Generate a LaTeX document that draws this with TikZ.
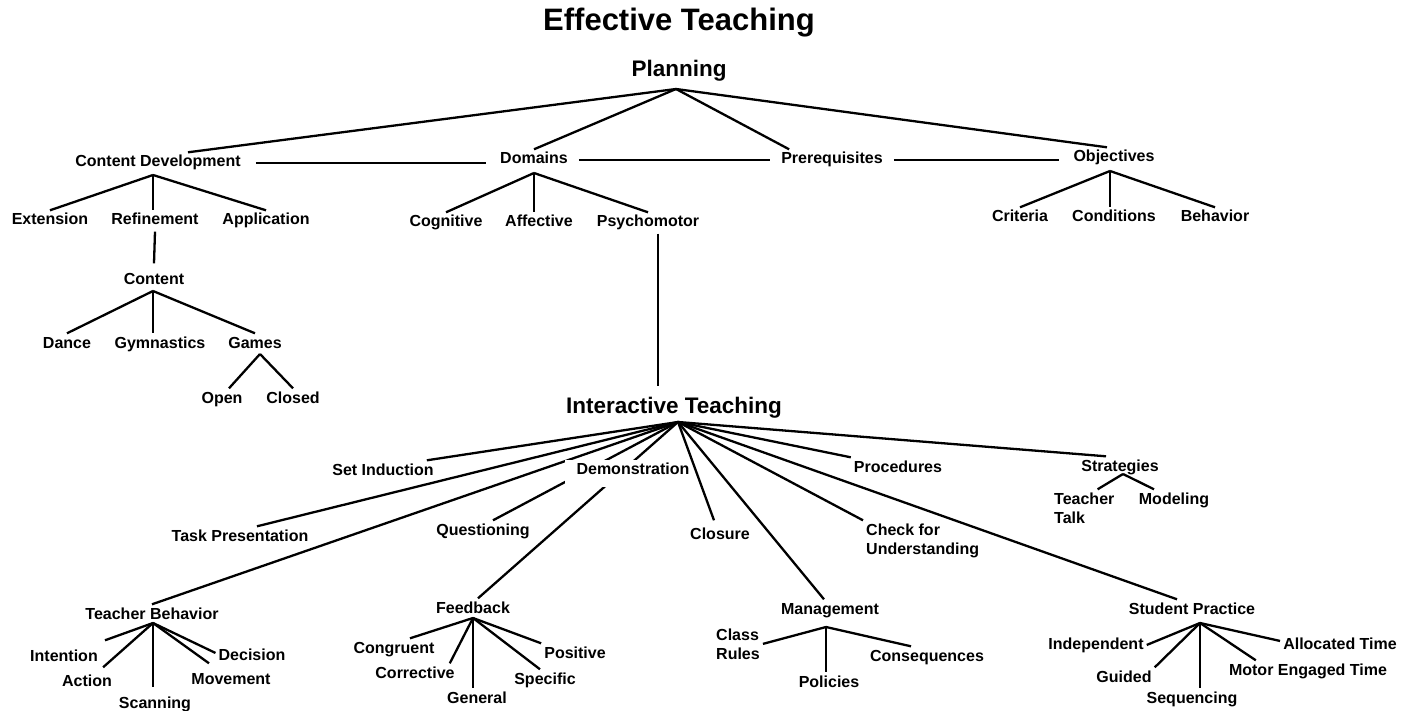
\documentclass[tikz,border=0pt]{standalone}
\usepackage{fontspec}
\setmainfont{Liberation Sans}
\usetikzlibrary{backgrounds}
\tikzset{
  lbl/.style={font=\fontsize{16}{19}\selectfont\bfseries, inner sep=3pt, text height=11.5pt, text depth=3.4pt, anchor=base},
  lbltwo/.style={font=\fontsize{16}{19}\selectfont\bfseries, inner sep=3pt, align=left, anchor=north west},
  head/.style={font=\fontsize{22.5}{27}\selectfont\bfseries, inner sep=3pt, anchor=base},
  ttl/.style={font=\fontsize{31}{37}\selectfont\bfseries, inner sep=0pt, anchor=base},
  ln/.style={line width=2.3pt},
}
\begin{document}
\begin{tikzpicture}[x=1pt, y=-1pt]
   \useasboundingbox (0,0) rectangle (1407,711);

   \node[ttl] (title) at (679,31) {Effective Teaching};
   \node[head] (plan) at (679,77) {Planning};
   \coordinate (plan-a) at (676,89);

   % planning
   \node[lbl] (cd) at (158,167) {Content Development};
   \node[lbl] (dom) at (534,164) {Domains};
   \node[lbl] (pre) at (832,164) {Prerequisites};
   \node[lbl] (obj) at (1114,162) {Objectives};
   \coordinate (cd-a) at (153,175);
   \coordinate (dom-a) at (534,173);
   \coordinate (obj-a) at (1110,171);

   \node[lbl] (ext) at (50,225) {Extension};
   \node[lbl] (ref) at (155,225) {Refinement};
   \node[lbl] (app) at (266,225) {Application};
   \node[lbl] (cont) at (154,284) {Content};
   \coordinate (cont-a) at (153,291);
   \node[lbl] (dance) at (67,348) {Dance};
   \node[lbl] (gym) at (160,348) {Gymnastics};
   \node[lbl] (games) at (255,348) {Games};
   \coordinate (games-a) at (260,354);
   \node[lbl] (open) at (222,403) {Open};
   \node[lbl] (closed) at (293,403) {Closed};

   \node[lbl] (cog) at (446,227) {Cognitive};
   \node[lbl] (aff) at (539,227) {Affective};
   \node[lbl] (psy) at (648,227) {Psychomotor};

   \node[lbl] (cri) at (1020,222) {Criteria};
   \node[lbl] (con) at (1114,222) {Conditions};
   \node[lbl] (beh) at (1215,222) {Behavior};

   % interactive teaching
   \node[head] (it) at (674,413) {Interactive Teaching};
   \coordinate (it-a) at (678,422);

   \node[lbl] (si) at (383,475) {Set Induction};
   \node[lbl] (tp) at (240,541) {Task Presentation};
   \node[lbl] (qu) at (483,535) {Questioning};
   \node[lbl, fill=white, inner xsep=1pt, text depth=10pt] (dem) at (627.5,474) {\hspace*{11pt}Demonstration};
   \node[lbl] (clo) at (720,539) {Closure};
   \node[lbl] (proc) at (898,472) {Procedures};
   \node[lbltwo] (chk) at (863,520.3) {Check for\\Understanding};
   \node[lbl] (strat) at (1120,471) {Strategies};
   \coordinate (strat-a) at (1123,474);
   \node[lbltwo] (tt) at (1051,489.3) {Teacher\\Talk};
   \node[lbl] (mod) at (1174,504) {Modeling};

   \node[lbl] (tb) at (152,619) {Teacher Behavior};
   \coordinate (tb-a) at (153,623);
   \node[lbl] (int) at (64,661) {Intention};
   \node[lbl] (act) at (87,686) {Action};
   \node[lbl] (scan) at (155,708) {Scanning};
   \node[lbl] (mov) at (231,684) {Movement};
   \node[lbl] (dec) at (252,660) {Decision};

   \node[lbl] (fb) at (473,613) {Feedback};
   \coordinate (fb-a) at (473,618);
   \node[lbl] (cong) at (394,653) {Congruent};
   \node[lbl] (corr) at (415,678) {Corrective};
   \node[lbl] (gen) at (477,703) {General};
   \node[lbl] (spec) at (545,684) {Specific};
   \node[lbl] (pos) at (575,658) {Positive};

   \node[lbl] (mgmt) at (830,614) {Management};
   \coordinate (mgmt-a) at (826,627);
   \node[lbltwo] (cr) at (713,625.3) {Class\\Rules};
   \node[lbl] (pol) at (829,687) {Policies};
   \node[lbl] (cons) at (927,661) {Consequences};

   \node[lbl] (sp) at (1192,614) {Student Practice};
   \coordinate (sp-a) at (1200,623);
   \node[lbl] (ind) at (1096,649) {Independent};
   \node[lbl] (gui) at (1124,682) {Guided};
   \node[lbl] (seq) at (1192,703) {Sequencing};
   \node[lbl] (mot) at (1308,675) {Motor Engaged Time};
   \node[lbl] (all) at (1340,649) {Allocated Time};

   \begin{pgfonlayer}{background}
   \draw[ln] (plan-a) -- ([xshift=30pt]cd.north);
   \draw[ln] (plan-a) -- (dom.north);
   \draw[ln] (plan-a) -- ([xshift=11pt]pre.north west);
   \draw[ln] (plan-a) -- ([xshift=-7pt]obj.north);
   \draw[ln, shorten <=12pt, shorten >=11pt] (cd.east) -- (cd.east -| dom.west);
   \draw[ln, shorten <=8pt, shorten >=8pt] (dom.east) -- (dom.east -| pre.west);
   \draw[ln, shorten <=8pt, shorten >=11pt] (pre.east) -- (pre.east -| obj.west);

   \draw[ln] (cd-a) -- (ext.north);
   \draw[ln] (cd-a) -- (cd-a |- ref.north);
   \draw[ln] (cd-a) -- (app.north);
   \draw[ln] (ref.south) -- ([yshift=6pt]cont.north);
   \draw[ln] (cont-a) -- (dance.north);
   \draw[ln] (cont-a) -- (cont-a |- gym.north);
   \draw[ln] (cont-a) -- (games.north);
   \draw[ln] (games-a) -- ([xshift=7pt]open.north);
   \draw[ln] (games-a) -- (closed.north);

   \draw[ln] (dom-a) -- (cog.north);
   \draw[ln] (dom-a) -- (dom-a |- aff.north);
   \draw[ln] (dom-a) -- (psy.north);
   \draw[ln] ([xshift=10pt]psy.south) -- ([xshift=-16pt,yshift=7pt]it.north);

   \draw[ln] (obj-a) -- (cri.north);
   \draw[ln] (obj-a) -- (obj-a |- con.north);
   \draw[ln] (obj-a) -- (beh.north);

   \draw[ln] (it-a) -- ([xshift=-10pt]si.north east);
   \draw[ln] (it-a) -- ([xshift=17pt]tp.north);
   \draw[ln] (it-a) -- (tb.north);
   \draw[ln] (it-a) -- ([xshift=10pt]qu.north);
   \draw[ln] (it-a) -- ([xshift=5pt]fb.north);
   \draw[ln] (it-a) -- ([xshift=-6pt,yshift=4pt]clo.north);
   \draw[ln] (it-a) -- ([xshift=-6pt]mgmt.north);
   \draw[ln] (it-a) -- (chk.north west);
   \draw[ln] (it-a) -- ([xshift=-15pt]sp.north);
   \draw[ln] (it-a) -- (proc.north west);
   \draw[ln] (it-a) -- ([xshift=-14pt]strat.north);

   \draw[ln] (strat-a) -- ([xshift=-20pt]tt.north east);
   \draw[ln] (strat-a) -- ([xshift=-20pt]mod.north);

   \draw[ln] (tb-a) -- ([xshift=4pt,yshift=6pt]int.north east);
   \draw[ln] (tb-a) -- ([xshift=-12pt,yshift=4pt]act.north east);
   \draw[ln] (tb-a) -- ([yshift=6pt]tb-a |- scan.north);
   \draw[ln] (tb-a) -- ([xshift=-22pt,yshift=6pt]mov.north);
   \draw[ln] (tb-a) -- ([yshift=3pt]dec.west);

   \draw[ln] (fb-a) -- ([xshift=16pt]cong.north);
   \draw[ln] (fb-a) -- ([xshift=-8pt]corr.north east);
   \draw[ln] (fb-a) -- (fb-a |- gen.north);
   \draw[ln] (fb-a) -- ([xshift=-5pt]spec.north);
   \draw[ln] (fb-a) -- (pos.north west);

   \draw[ln] (mgmt-a) -- (cr.east);
   \draw[ln] (mgmt-a) -- (mgmt-a |- pol.north);
   \draw[ln] (mgmt-a) -- ([xshift=-16pt]cons.north);

   \draw[ln] (sp-a) -- (ind.east);
   \draw[ln] (sp-a) -- (gui.north east);
   \draw[ln] (sp-a) -- (sp-a |- seq.north);
   \draw[ln] (sp-a) -- ([xshift=30pt]mot.north west);
   \draw[ln] (sp-a) -- ([yshift=4pt]all.west);
   \end{pgfonlayer}
\end{tikzpicture}
\end{document}
